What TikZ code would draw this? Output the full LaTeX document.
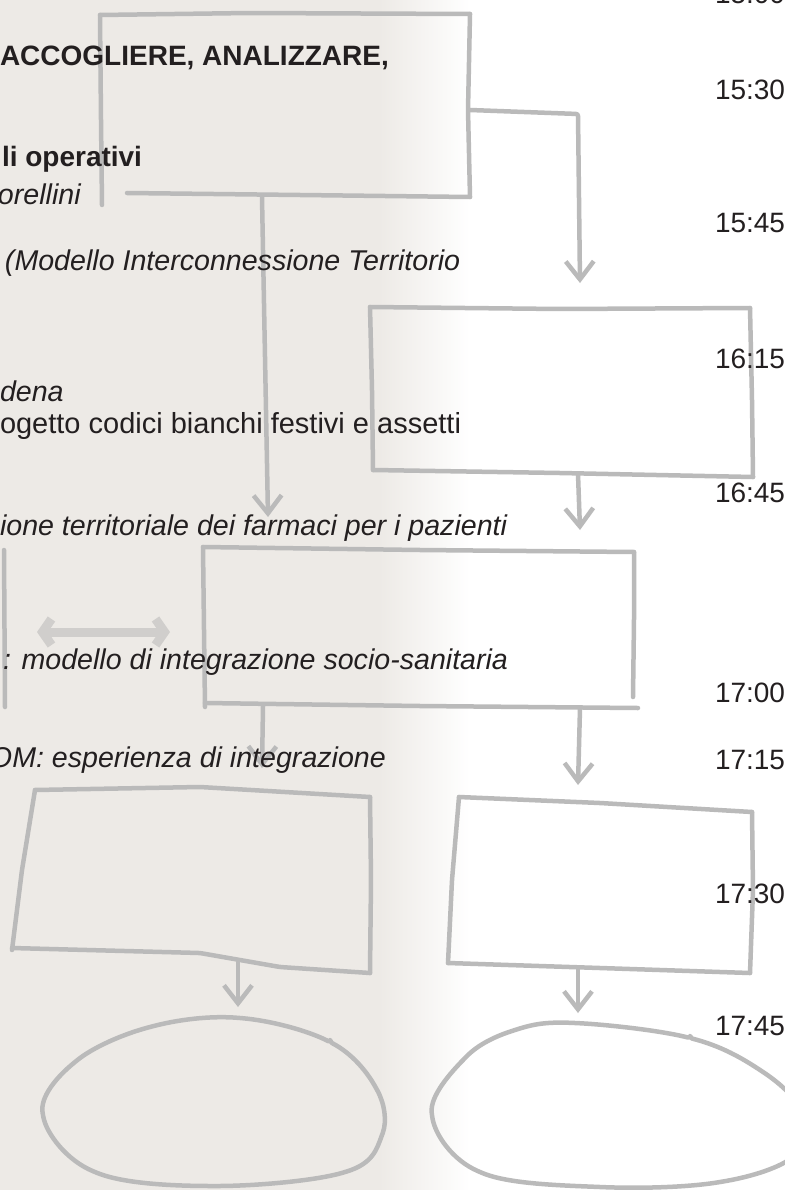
\documentclass[tikz,border=0pt]{standalone}
\usepackage{fontspec}
\setmainfont{Liberation Sans}
\usetikzlibrary{arrows.meta}
\definecolor{paper}{RGB}{237,234,230}
\definecolor{ink}{RGB}{35,31,32}
\definecolor{pen}{RGB}{186,186,186}
\definecolor{penlight}{RGB}{208,206,204}
\tikzset{
  sketch/.style={draw=pen, line width=4.5pt, line cap=round, line join=round, rounded corners=2pt},
  conn/.style={sketch, -{Straight Barb[length=18pt,width=28pt]}},
  dblarrow/.style={draw=penlight, line width=9pt, {Straight Barb[length=9pt,width=26pt]}-{Straight Barb[length=9pt,width=26pt]}},
  txt/.style={anchor=base west, inner sep=0pt, outer sep=0pt, text=ink, font=\fontsize{29}{34}\selectfont},
  txtb/.style={txt, font=\fontsize{28}{34}\selectfont\bfseries},
  txti/.style={txt, font=\fontsize{28.6}{34}\selectfont\itshape},
  timetxt/.style={txt, font=\fontsize{28}{34}\selectfont},
}
\begin{document}
\begin{tikzpicture}[x=1pt,y=-1pt]
\useasboundingbox (0,0) rectangle (784,1190);
% paper background
\fill[white] (0,0) rectangle (784,1190);
\fill[paper] (0,0) rectangle (380,1190);
\shade[left color=paper, right color=white] (379,0) rectangle (470,1190);

% ---- boxes (hand-drawn look) ----
% box 1
\draw[sketch] (100,15) -- (250,13) -- (470,14);
\draw[sketch] (470,14) -- (468,110) -- (470,197);
\draw[sketch] (470,197) -- (300,195) -- (127,193);
\draw[sketch] (100,15) -- (101,120) -- (102,205);
% box 2
\draw[sketch] (370,307) -- (560,309) -- (750,308);
\draw[sketch] (750,308) -- (752,400) -- (753,477);
\draw[sketch] (753,477) -- (560,473) -- (373,470);
\draw[sketch] (370,307) -- (372,390) -- (373,470);
% box 3
\draw[sketch] (203,547) -- (420,550) -- (634,552);
\draw[sketch] (634,552) -- (634,620) -- (633,697);
\draw[sketch] (205,703) -- (420,706) -- (638,708);
\draw[sketch] (203,547) -- (204,630) -- (205,707);
% partial box at the left edge
\draw[sketch] (4,550) -- (5,707);
% box 4
\draw[sketch] (35,790) -- (200,787) -- (370,797);
\draw[sketch] (370,797) -- (371,880) -- (370,973);
\draw[sketch] (12,948) -- (200,953) -- (280,967) -- (370,973);
\draw[sketch] (35,790) -- (22,870) -- (12,950);
% box 5
\draw[sketch] (459,797) -- (600,803) -- (752,812);
\draw[sketch] (752,812) -- (753,890) -- (750,973);
\draw[sketch] (448,963) -- (600,968) -- (750,973);
\draw[sketch] (459,797) -- (452,880) -- (448,963);
% ellipses
\draw[sketch] plot[smooth cycle, tension=0.6] coordinates {(240,1018) (330,1042) (376,1088) (382,1135) (345,1172) (215,1186) (95,1172) (43,1115) (75,1062) (150,1027)};
\draw[sketch] plot[smooth cycle, tension=0.6] coordinates {(575,1023) (690,1038) (760,1070) (800,1110) (795,1155) (720,1182) (600,1187) (480,1172) (432,1115) (465,1058) (515,1030)};

% ---- connectors ----
\coordinate (b1r) at (470,110);
\coordinate (b1k) at (578,114);
\coordinate (a1) at (580,283);
\coordinate (b1b) at (262,197);
\coordinate (a2) at (268,517);
\coordinate (b2b) at (578,474);
\coordinate (a3) at (580,530);
\coordinate (b3bl) at (263,706);
\coordinate (a4) at (262,768);
\coordinate (b3br) at (580,708);
\coordinate (a5) at (578,785);
\coordinate (b4b) at (238,962);
\coordinate (a6) at (238,1007);
\coordinate (b5b) at (578,968);
\coordinate (a7) at (578,1013);
\coordinate (dl) at (37,632);
\coordinate (dr) at (170,632);

\draw[conn] (b1r) -- (b1k) -- (a1);
\draw[conn] (b1b) -- (a2);
\draw[conn] (b2b) -- (a3);
\draw[conn] (b3bl) -- (a4);
\draw[conn] (b3br) -- (a5);
\draw[conn] (b4b) -- (a6);
\draw[conn] (b5b) -- (a7);
\draw[dblarrow] (dl) -- (dr);

% ---- programme text ----
\node[txtb] (t1) at (0,66) {ACCOGLIERE, ANALIZZARE,};
\node[txtb] (t2) at (2,167) {li operativi};
\node[txti] (t3) at (-2,205) {orellini};
\node[txti] (t4) at (5,270) {(Modello Interconnessione Territorio};
\node[txti] (t5) at (0,401) {dena};
\node[txt]  (t6) at (0,433) {ogetto codici bianchi festivi e assetti};
\node[txti] (t7) at (0,535) {ione territoriale dei farmaci per i pazienti};
\node[txti] (t8) at (3,669) {: modello di integrazione socio-sanitaria};
\node[txti] (t9) at (-10,767) {OM: esperienza di integrazione};

% ---- times ----
\node[timetxt] (h0) at (715,4) {15:00};
\node[timetxt] (h1) at (715,100) {15:30};
\node[timetxt] (h2) at (715,233) {15:45};
\node[timetxt] (h3) at (715,368) {16:15};
\node[timetxt] (h4) at (715,502) {16:45};
\node[timetxt] (h5) at (715,702) {17:00};
\node[timetxt] (h6) at (715,769) {17:15};
\node[timetxt] (h7) at (715,903) {17:30};
\node[timetxt] (h8) at (715,1035) {17:45};
\end{tikzpicture}
\end{document}
